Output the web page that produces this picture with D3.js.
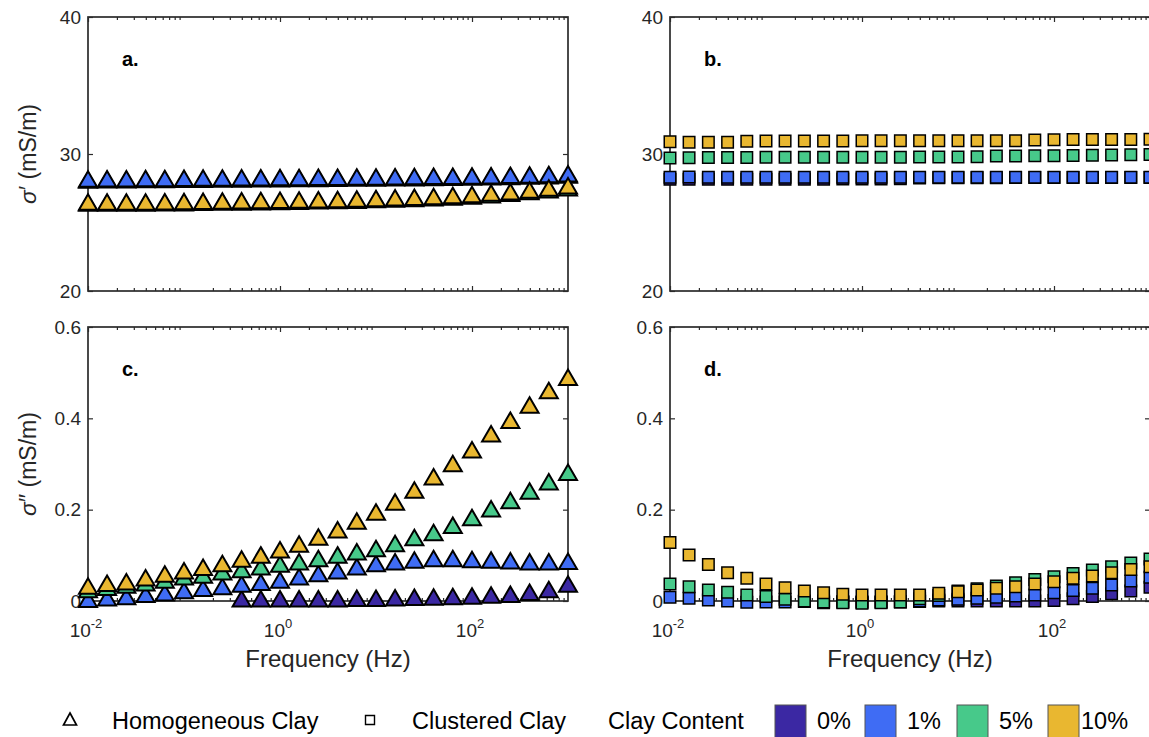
<!DOCTYPE html>
<html><head><meta charset="utf-8">
<script src="https://cdn.jsdelivr.net/npm/d3@7"></script>
<style>body{margin:0;background:#fff;overflow:hidden} svg{display:block;font-family:"Liberation Sans",Arial,Helvetica,sans-serif;}</style>
</head><body><svg id="chart" width="1149" height="737"></svg>
<script>
// ---------------- data ----------------
const frequency = [0.01,0.0158,0.0251,0.0398,0.0631,0.1,0.158,0.251,0.398,0.631,1,1.58,2.51,3.98,6.31,10,15.8,25.1,39.8,63.1,100,158,251,398,631,1000];
const clayContents = ["0%","1%","5%","10%"];
const clayColors = ["#3b28a3","#3f6cf4","#47c98a","#e9b730"];

// panel a: homogeneous clay, sigma' (mS/m)
const homoReal0  = [28.10,28.12,28.12,28.13,28.14,28.15,28.16,28.17,28.18,28.19,28.20,28.21,28.22,28.23,28.24,28.25,28.26,28.27,28.29,28.30,28.32,28.34,28.36,28.39,28.42,28.47];
const homoReal1  = [28.18,28.20,28.20,28.21,28.22,28.23,28.24,28.25,28.26,28.27,28.28,28.29,28.30,28.31,28.32,28.33,28.34,28.35,28.37,28.38,28.40,28.42,28.44,28.47,28.50,28.55];
const homoReal5  = [26.42,26.42,26.42,26.42,26.44,26.45,26.47,26.49,26.50,26.52,26.54,26.56,26.58,26.60,26.63,26.67,26.71,26.75,26.80,26.86,26.93,27.03,27.14,27.26,27.39,27.53];
const homoReal10 = [26.50,26.50,26.50,26.50,26.52,26.53,26.55,26.57,26.58,26.60,26.62,26.64,26.66,26.68,26.72,26.76,26.80,26.85,26.90,26.97,27.04,27.15,27.25,27.38,27.52,27.68];

// panel b: clustered clay, sigma' (mS/m)
const clustReal0  = [28.15,28.15,28.16,28.15,28.16,28.16,28.15,28.16,28.16,28.17,28.17,28.18,28.19,28.25,28.26,28.27,28.27,28.27,28.28,28.28,28.28,28.28,28.28,28.28,28.28,28.28];
const clustReal1  = [28.30,28.32,28.30,28.30,28.30,28.31,28.30,28.30,28.31,28.30,28.30,28.31,28.31,28.30,28.31,28.31,28.30,28.31,28.31,28.31,28.31,28.31,28.31,28.31,28.31,28.31];
const clustReal5  = [29.70,29.73,29.75,29.75,29.75,29.76,29.76,29.76,29.76,29.76,29.77,29.77,29.77,29.78,29.78,29.79,29.80,29.85,29.86,29.87,29.88,29.89,29.90,29.93,29.95,29.97];
const clustReal10 = [30.90,30.86,30.85,30.85,30.93,30.95,30.95,30.95,30.95,30.95,30.96,30.96,30.96,30.96,30.96,30.97,30.97,30.97,30.97,31.03,31.04,31.05,31.05,31.06,31.06,31.07];

// panel c: homogeneous clay, sigma'' (mS/m)
const homoImag0  = [null,null,null,null,null,null,null,null,0.005,0.005,0.005,0.005,0.005,0.005,0.006,0.006,0.007,0.008,0.009,0.010,0.011,0.013,0.015,0.019,0.025,0.037];
const homoImag1  = [0.004,0.007,0.010,0.015,0.018,0.023,0.028,0.032,0.037,0.041,0.046,0.053,0.060,0.066,0.075,0.082,0.086,0.090,0.093,0.093,0.091,0.090,0.088,0.086,0.086,0.087];
const homoImag5  = [0.025,0.030,0.035,0.040,0.046,0.053,0.057,0.064,0.069,0.075,0.081,0.086,0.093,0.101,0.108,0.115,0.126,0.139,0.150,0.166,0.183,0.202,0.220,0.241,0.261,0.282];
const homoImag10 = [0.033,0.039,0.042,0.051,0.059,0.066,0.074,0.082,0.092,0.101,0.112,0.125,0.140,0.156,0.175,0.195,0.217,0.243,0.272,0.301,0.331,0.366,0.396,0.429,0.461,0.490];

// panel d: clustered clay, sigma'' (mS/m)
const clustImag0  = [null,null,null,null,null,null,null,null,-0.004,-0.003,-0.003,-0.002,-0.002,-0.001,0.000,0.000,0.000,0.000,0.000,0.000,0.001,0.005,0.010,0.016,0.022,0.030];
const clustImag1  = [0.008,0.006,0.002,0.000,-0.003,-0.002,-0.002,-0.001,0.000,-0.001,-0.002,-0.002,-0.001,0.000,0.002,0.004,0.006,0.008,0.011,0.013,0.018,0.023,0.028,0.035,0.044,0.052];
const clustImag5  = [0.037,0.031,0.024,0.019,0.013,0.010,0.004,0.000,-0.002,-0.004,-0.005,-0.004,-0.002,0.005,0.012,0.022,0.027,0.033,0.040,0.047,0.053,0.060,0.068,0.075,0.083,0.092];
const clustImag10 = [0.128,0.101,0.080,0.062,0.050,0.037,0.029,0.022,0.018,0.015,0.013,0.013,0.013,0.013,0.017,0.020,0.024,0.028,0.031,0.037,0.042,0.050,0.055,0.062,0.069,0.075];

const xDomain = [0.01, 1000];
const xTickValues = [0.01, 1, 100];
const xTickBase = ["10","10","10"];
const xTickExp = ["-2","0","2"];
const realDomain = [20, 40];
const realTicks = [20, 30, 40];
const imagDomain = [0, 0.6];
const imagTicks = [0, 0.2, 0.4, 0.6];
const panelLetters = ["a.","b.","c.","d."];
const legendShapes = ["Homogeneous Clay","Clustered Clay"];
const legendTitle = "Clay Content";

// ---------------- layout ----------------
const svg = d3.select("#chart");
const W = 480, H = 274;
const colX = [88, 670], rowY = [17, 327];
const axisColor = "#2b2b2b";
const textColor = "#262626";

const panels = [
  {col:0,row:0,series:[homoReal0,homoReal1,homoReal5,homoReal10],domain:realDomain,ticks:realTicks,shape:"tri",ylabel:"′"},
  {col:1,row:0,series:[clustReal0,clustReal1,clustReal5,clustReal10],domain:realDomain,ticks:realTicks,shape:"sq"},
  {col:0,row:1,series:[homoImag0,homoImag1,homoImag5,homoImag10],domain:imagDomain,ticks:imagTicks,shape:"tri",ylabel:"″"},
  {col:1,row:1,series:[clustImag0,clustImag1,clustImag5,clustImag10],domain:imagDomain,ticks:imagTicks,shape:"sq"},
];

function triPath(w,h){ return `M0,${-h/2}L${w/2},${h/2}L${-w/2},${h/2}Z`; }
function sqPath(s){ return `M${-s/2},${-s/2}h${s}v${s}h${-s}Z`; }

const minorTicks = [];
for (let e=-2; e<3; e++) for (let m=2; m<10; m++) minorTicks.push(m*Math.pow(10,e));

panels.forEach((p,i)=>{
  const x0 = colX[p.col], y0 = rowY[p.row];
  const x = d3.scaleLog().domain(xDomain).range([0, W]);
  const y = d3.scaleLinear().domain(p.domain).range([H, 0]);
  const g = svg.append("g").attr("transform",`translate(${x0},${y0})`);

  // box
  g.append("rect").attr("width",W).attr("height",H).attr("fill","none").attr("stroke",axisColor).attr("stroke-width",1.7);

  // axes (inward ticks)
  const yl = g.append("g").call(d3.axisLeft(y).tickValues(p.ticks).tickSize(-5).tickPadding(7).tickFormat(d3.format("~g")));
  const yr = g.append("g").attr("transform",`translate(${W},0)`).call(d3.axisRight(y).tickValues(p.ticks).tickSize(-5).tickFormat(""));
  const xb = g.append("g").attr("transform",`translate(0,${H})`).call(d3.axisBottom(x).tickValues(xTickValues).tickSize(-5).tickFormat(""));
  const xbm = g.append("g").attr("transform",`translate(0,${H})`).call(d3.axisBottom(x).tickValues(minorTicks).tickSize(-3).tickFormat(""));
  const xt = g.append("g").call(d3.axisTop(x).tickValues(xTickValues).tickSize(-5).tickFormat(""));
  const xtm = g.append("g").call(d3.axisTop(x).tickValues(minorTicks).tickSize(-3).tickFormat(""));
  [yl,yr,xb,xbm,xt,xtm].forEach(a=>{
    a.select(".domain").remove();
    a.selectAll(".tick line").attr("stroke",axisColor).attr("stroke-width",1.2);
    a.selectAll("text").attr("fill",textColor).attr("font-size",19).attr("font-family","Liberation Sans, Arial, sans-serif");
  });

  // x tick labels only on bottom row
  if (p.row===1) {
    xTickValues.forEach((v,k)=>{
      const t = g.append("text").attr("x",x(v)-2).attr("y",H+36).attr("text-anchor","middle")
        .attr("fill",textColor).attr("font-size",19);
      t.append("tspan").text(xTickBase[k]);
      t.append("tspan").attr("dy",-9).attr("font-size",13).text(xTickExp[k]);
    });
    g.append("text").attr("x",W/2).attr("y",H+66).attr("text-anchor","middle").attr("fill",textColor).attr("font-size",24).text("Frequency (Hz)");
  }

  // panel letter
  g.append("text").attr("x",34).attr("y",49).attr("font-weight","bold").attr("font-size",20).attr("fill","#000").text(panelLetters[i]);

  // y label
  if (p.ylabel) {
    const t = g.append("text").attr("transform",`translate(${-52},${H/2}) rotate(-90)`).attr("text-anchor","middle").attr("fill",textColor).attr("font-size",23);
    t.append("tspan").attr("font-style","italic").text("σ");
    t.append("tspan").text(p.ylabel + " (mS/m)");
  }

  // markers
  p.series.forEach((vals,s)=>{
    const pts = frequency.map((f,k)=>({f, v: vals[k]})).filter(d=>d.v!==null);
    g.append("g").selectAll("path").data(pts).join("path")
      .attr("transform",d=>`translate(${x(d.f)},${y(d.v)})`)
      .attr("d", p.shape==="tri" ? triPath(18,15.5) : sqPath(11.5))
      .attr("fill", clayColors[s]).attr("stroke","#000").attr("stroke-width", p.shape==="tri"?2:1.5)
      .attr("stroke-linejoin","miter");
  });
});

// ---------------- legend ----------------
const lg = svg.append("g").attr("font-size",23.5).attr("fill","#000");
const ly = 721;
lg.append("path").attr("transform",`translate(70,${ly-2})`).attr("d",triPath(13,12)).attr("fill","none").attr("stroke","#000").attr("stroke-width",1.7);
lg.append("text").attr("x",112).attr("y",ly+8).text(legendShapes[0]);
lg.append("path").attr("transform",`translate(370,${ly-1})`).attr("d",sqPath(9)).attr("fill","none").attr("stroke","#000").attr("stroke-width",1.4);
lg.append("text").attr("x",412).attr("y",ly+8).text(legendShapes[1]);
lg.append("text").attr("x",608).attr("y",ly+8).text(legendTitle);
const patchX = [775, 865, 957, 1048];
clayContents.forEach((c,s)=>{
  lg.append("rect").attr("x",patchX[s]).attr("y",705).attr("width",31).attr("height",33)
    .attr("fill",clayColors[s]).attr("stroke","#555").attr("stroke-width",1);
  lg.append("text").attr("x",patchX[s]+ (s===3?33:42)).attr("y",ly+8).text(c);
});
</script></body></html>
